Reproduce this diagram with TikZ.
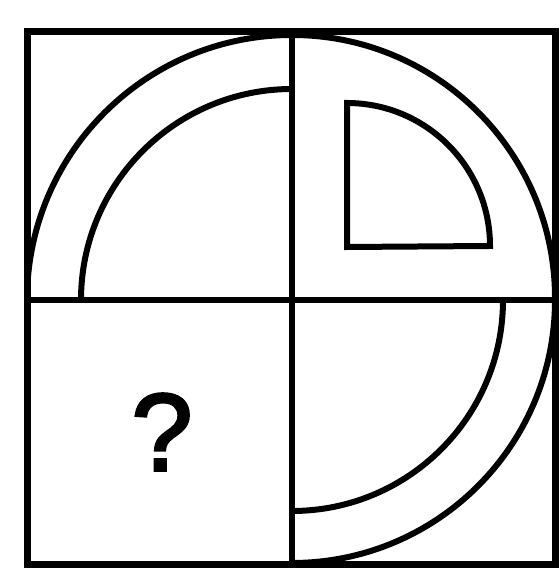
\documentclass[tikz,border=0pt]{standalone}
\usepackage{fontspec}
\setmainfont{Liberation Sans}
\newfontfamily\qfont{Liberation Sans}[FakeBold=2.5]

\begin{document}
\begin{tikzpicture}[x=1pt,y=1pt,
  frame/.style={line width=7pt, line join=miter},
  part/.style={line width=6pt}]
\useasboundingbox (0,0) rectangle (559,572);
% the square and its cross
\draw[frame] (27,7) rectangle (555,540);
\draw[part] (292,7) -- (292,540);
\draw[part] (27,272) -- (555,272);
% upper left: ring
\draw[part] (27,272) arc (180:90:265);
\draw[part] (81,272) arc (180:90:211);
% upper right: outer arc and small sector
\draw[part] (292,537) arc (90:0:263);
\draw[part, line join=miter] (347,325) -- (347,469) arc (90:0:143) -- cycle;
% lower right: ring
\draw[part] (555,272) arc (0:-90:263);
\draw[part] (503,272) arc (0:-90:211);
% lower left: unknown
\node[font=\qfont\fontsize{110}{110}\selectfont] (q) at (162,140) {?};
\end{tikzpicture}
\end{document}
